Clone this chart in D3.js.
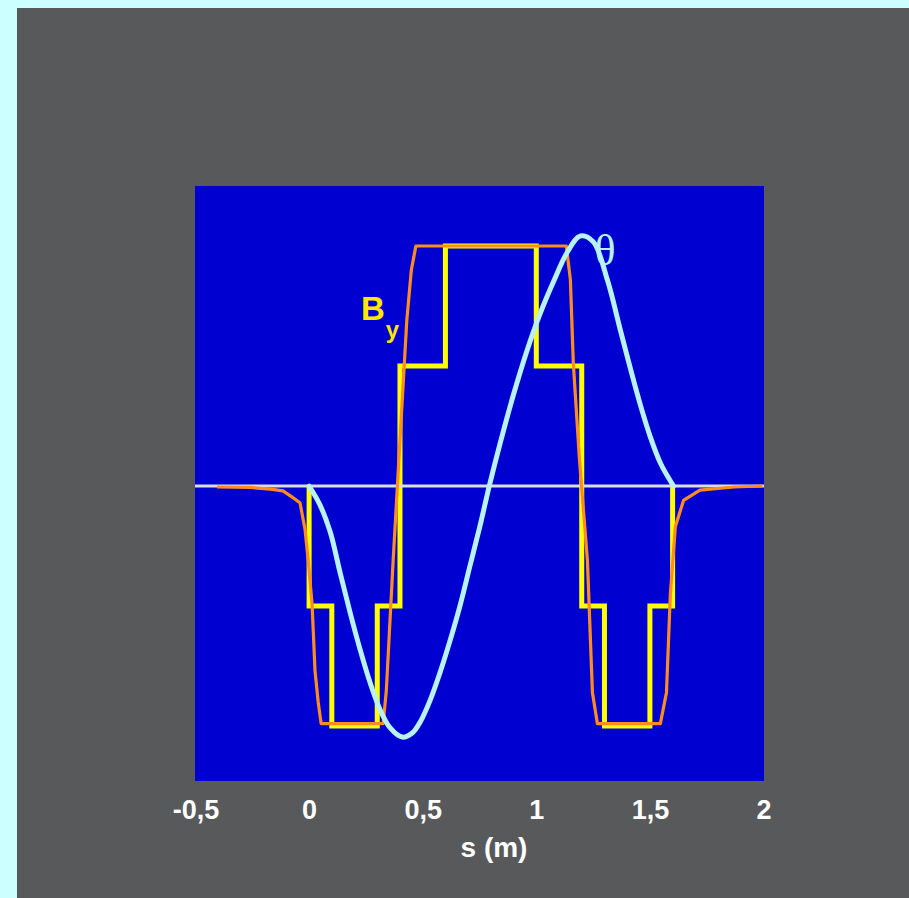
<!DOCTYPE html>
<html>
<head>
<meta charset="utf-8">
<script src="https://cdn.jsdelivr.net/npm/d3@7"></script>
<style>
  body { margin: 0; background: #ccffff; }
  svg { display: block; }
</style>
</head>
<body>
<svg id="chart" width="909" height="898"></svg>
<script>
// wiggler field B_y and angle theta along s

const X_TICKS = [-0.5, 0, 0.5, 1, 1.5, 2];
const X_TICK_LABELS = ["-0,5", "0", "0,5", "1", "1,5", "2"];

// hard-edge field model (step after each point)
const stepS = [0, 0, 0.1, 0.3, 0.4, 0.6, 1.0, 1.2, 1.3, 1.5, 1.6];
const stepB = [0, -0.5, -1, -0.5, 0.5, 1, 0.5, -0.5, -1, -0.5, 0];

// measured field with fringes
const fieldS = [-0.405, -0.26, -0.17, -0.115, -0.084, -0.04, -0.018, -0.004, 0.013, 0.026, 0.04, 0.053,
  0.326, 0.34, 0.37, 0.40, 0.43, 0.45, 0.47,
  1.132, 1.15, 1.163, 1.19, 1.225, 1.247, 1.269,
  1.546, 1.573, 1.59, 1.612, 1.648, 1.72, 1.87, 1.996];
const fieldB = [-0.004, -0.006, -0.013, -0.02, -0.04, -0.07, -0.18, -0.31, -0.49, -0.77, -0.9, -0.99,
  -0.99, -0.85, -0.31, 0.19, 0.69, 0.9, 1.0,
  1.0, 0.86, 0.51, 0.11, -0.31, -0.86, -0.99,
  -0.99, -0.86, -0.45, -0.17, -0.06, -0.017, -0.004, 0];

// deflection angle (arbitrary units on same axis)
const thetaS = [0, 0.048, 0.093, 0.137, 0.181, 0.225, 0.269, 0.313, 0.357, 0.41, 0.454, 0.489, 0.533,
  0.577, 0.621, 0.665, 0.709, 0.753, 0.793, 0.841, 0.899, 0.96, 1.018, 1.075, 1.137, 1.194, 1.251,
  1.313, 1.37, 1.414, 1.458, 1.502, 1.546, 1.604];
const thetaV = [0, -0.079, -0.192, -0.363, -0.529, -0.683, -0.821, -0.933, -1.008, -1.046, -1.029, -0.983, -0.892,
  -0.775, -0.642, -0.496, -0.329, -0.163, 0, 0.179, 0.379, 0.567, 0.721, 0.85, 0.975, 1.042, 1.017,
  0.858, 0.65, 0.49, 0.338, 0.204, 0.096, 0];

const PLOT = { left: 195, right: 764, top: 186, bottom: 781 };
const FONT = "'Liberation Sans', Arial, sans-serif";

const svg = d3.select("#chart");

// backgrounds
svg.append("rect").attr("width", 909).attr("height", 898).attr("fill", "#ccffff");
svg.append("rect").attr("x", 17).attr("y", 8).attr("width", 892).attr("height", 890).attr("fill", "#58595b");
svg.append("rect")
  .attr("x", PLOT.left).attr("y", PLOT.top)
  .attr("width", PLOT.right - PLOT.left).attr("height", PLOT.bottom - PLOT.top)
  .attr("fill", "#0000d0");

const x = d3.scaleLinear().domain([-0.5, 2]).range([195.5, 763.5]);
const y = d3.scaleLinear().domain([-1.229, 1.25]).range([PLOT.bottom, PLOT.top]);

const zip = (a, b) => a.map((v, i) => [v, b[i]]);

// step field (yellow)
svg.append("path")
  .datum(zip(stepS, stepB))
  .attr("fill", "none")
  .attr("stroke", "#ffff00")
  .attr("stroke-width", 5)
  .attr("stroke-linejoin", "miter")
  .attr("d", d3.line().x(d => x(d[0])).y(d => y(d[1])).curve(d3.curveStepAfter));

// zero line
svg.append("line")
  .attr("x1", PLOT.left).attr("x2", PLOT.right)
  .attr("y1", y(0)).attr("y2", y(0))
  .attr("stroke", "#dddddd")
  .attr("stroke-width", 3);

// measured field (orange)
svg.append("path")
  .datum(zip(fieldS, fieldB))
  .attr("fill", "none")
  .attr("stroke", "#ff8c1e")
  .attr("stroke-width", 3.2)
  .attr("stroke-linejoin", "round")
  .attr("d", d3.line().x(d => x(d[0])).y(d => y(d[1])));

// theta (light cyan)
svg.append("path")
  .datum(zip(thetaS, thetaV))
  .attr("fill", "none")
  .attr("stroke", "#b8f2f2")
  .attr("stroke-width", 5)
  .attr("stroke-linecap", "round")
  .attr("d", d3.line().x(d => x(d[0])).y(d => y(d[1])).curve(d3.curveCatmullRom));

// x axis labels, no ticks or domain line
const axis = svg.append("g")
  .attr("transform", `translate(0,${PLOT.bottom})`)
  .call(d3.axisBottom(x).tickValues(X_TICKS).tickSize(0).tickPadding(0)
    .tickFormat((d, i) => X_TICK_LABELS[i]));
axis.select(".domain").remove();
axis.selectAll("text")
  .attr("y", 38)
  .attr("dy", null)
  .attr("fill", "#ffffff")
  .attr("font-family", FONT)
  .attr("font-size", "27px")
  .attr("font-weight", "bold");

svg.append("text")
  .attr("x", 494).attr("y", 857)
  .attr("text-anchor", "middle")
  .attr("fill", "#ffffff")
  .attr("font-family", FONT)
  .attr("font-size", "28px")
  .attr("font-weight", "bold")
  .text("s (m)");

// series labels
const bLabel = svg.append("text")
  .attr("x", 361).attr("y", 320)
  .attr("fill", "#ffe800")
  .attr("font-family", FONT)
  .attr("font-weight", "bold");
bLabel.append("tspan").attr("font-size", "33px").text("B");
bLabel.append("tspan").attr("font-size", "24px").attr("dx", 1).attr("dy", 18).text("y");

svg.append("text")
  .attr("x", 605).attr("y", 265)
  .attr("text-anchor", "middle")
  .attr("fill", "#b8f2f2")
  .attr("font-family", "'Liberation Serif', serif")
  .attr("font-size", "44px")
  .text("θ");
</script>
</body>
</html>
